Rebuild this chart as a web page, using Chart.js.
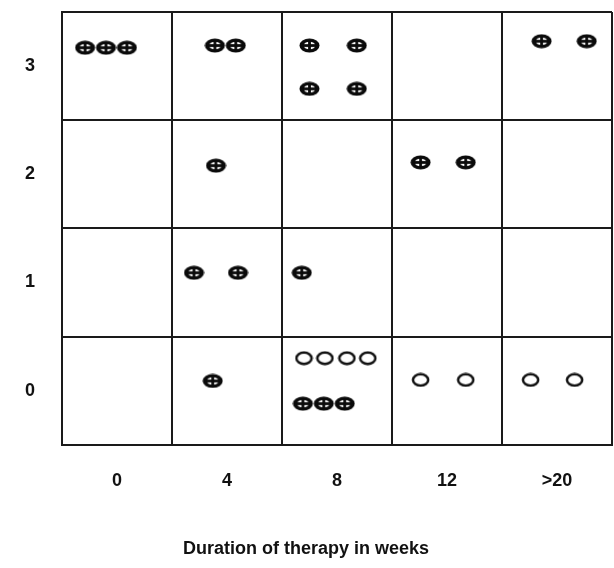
<!DOCTYPE html>
<html>
<head>
<meta charset="utf-8">
<script src="https://cdn.jsdelivr.net/npm/chart.js@4"></script>
<style>
  body { margin: 0; background: #fff; }
  canvas { display: block; }
</style>
</head>
<body>
<canvas id="chart" width="614" height="568"></canvas>
<script>
// categories
const weeks = ['0', '4', '8', '12', '>20'];
const scores = ['0', '1', '2', '3'];

// patients marked with a crossed circle (column index + place inside the cell)
const crossX = [-0.29, -0.10, 0.09, 0.89, 1.08, 1.75, 2.18, 1.75, 2.18, 3.86, 4.27,
                0.90, 2.76, 3.17,
                0.70, 1.10, 1.68,
                0.87, 1.69, 1.88, 2.07];
const crossY = [3.17, 3.17, 3.17, 3.19, 3.19, 3.19, 3.19, 2.79, 2.79, 3.23, 3.23,
                2.08, 2.11, 2.11,
                1.09, 1.09, 1.09,
                0.09, -0.12, -0.12, -0.12];

// patients marked with an open circle
const openX = [1.70, 1.89, 2.09, 2.28, 2.76, 3.17, 3.76, 4.16];
const openY = [0.30, 0.30, 0.30, 0.30, 0.10, 0.10, 0.10, 0.10];

function toPoints(xs, ys) {
  return xs.map((x, i) => ({ x: x, y: ys[i] }));
}

// marker images
function crossedCircle() {
  const c = document.createElement('canvas');
  c.width = 21;
  c.height = 15;
  const g = c.getContext('2d');
  g.fillStyle = '#0a0a0a';
  g.beginPath();
  g.ellipse(10.5, 7.5, 10, 7, 0, 0, Math.PI * 2);
  g.fill();
  g.fillStyle = '#fff';
  g.beginPath();
  g.ellipse(10.5, 7.5, 5.8, 3.8, 0, 0, Math.PI * 2);
  g.fill();
  g.fillStyle = '#0a0a0a';
  g.fillRect(9.1, 2, 2.8, 11);
  g.fillRect(3, 6.1, 15, 2.8);
  return c;
}

function openCircle() {
  const c = document.createElement('canvas');
  c.width = 19;
  c.height = 15;
  const g = c.getContext('2d');
  g.strokeStyle = '#111';
  g.lineWidth = 2.5;
  g.beginPath();
  g.ellipse(9.5, 7.5, 7.6, 5.8, 0, 0, Math.PI * 2);
  g.stroke();
  return c;
}

// no extra room for the edge labels, the grid keeps its own frame
function noEdgePadding(axis) {
  axis.paddingLeft = 0;
  axis.paddingRight = 0;
  axis.paddingTop = 0;
  axis.paddingBottom = 0;
}

const lineColor = '#1a1a1a';
const tickFont = { family: 'Liberation Sans', size: 18, weight: 'bold' };

new Chart(document.getElementById('chart'), {
  type: 'scatter',
  data: {
    datasets: [
      {
        label: 'crossed',
        data: toPoints(crossX, crossY),
        pointStyle: crossedCircle(),
        pointRadius: 10
      },
      {
        label: 'open',
        data: toPoints(openX, openY),
        pointStyle: openCircle(),
        pointRadius: 9
      }
    ]
  },
  options: {
    responsive: false,
    animation: false,
    layout: { autoPadding: false, padding: { left: 0, right: 2, top: 12, bottom: 0 } },
    plugins: {
      legend: { display: false },
      tooltip: { enabled: false },
      title: {
        display: true,
        position: 'bottom',
        text: 'Duration of therapy in weeks',
        color: '#111',
        font: { family: 'Liberation Sans', size: 18, weight: 'bold' },
        padding: { top: 22, bottom: 8 }
      }
    },
    scales: {
      x: {
        type: 'linear',
        min: -0.5,
        max: 4.5,
        afterBuildTicks: (axis) => {
          axis.ticks = weeks.map((_, i) => ({ value: i }));
        },
        afterFit: noEdgePadding,
        ticks: {
          callback: (v) => weeks[v],
          color: '#111',
          font: tickFont,
          padding: 25,
          maxRotation: 0
        },
        grid: { offset: true, color: lineColor, lineWidth: 2, drawTicks: false },
        border: { color: lineColor, width: 2 }
      },
      y: {
        type: 'linear',
        min: -0.5,
        max: 3.5,
        afterBuildTicks: (axis) => {
          axis.ticks = scores.map((_, i) => ({ value: i }));
        },
        afterFit: (axis) => {
          noEdgePadding(axis);
          axis.width = 62;
        },
        ticks: {
          callback: (v) => scores[v],
          color: '#111',
          font: tickFont,
          padding: 27
        },
        grid: { offset: true, color: lineColor, lineWidth: 2, drawTicks: false },
        border: { color: lineColor, width: 2 }
      }
    }
  }
});
</script>
</body>
</html>
